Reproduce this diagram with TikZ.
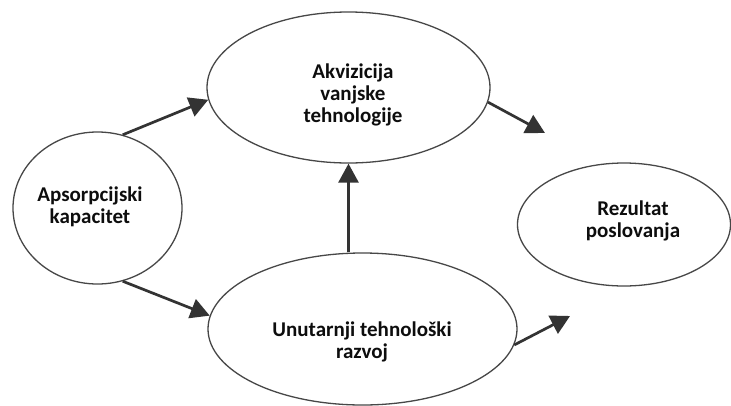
\documentclass[tikz,border=0pt]{standalone}
\usepackage{fontspec}
\setmainfont{Carlito}
\usetikzlibrary{shapes.geometric,arrows.meta}
\begin{document}
\begin{tikzpicture}[x=1pt,y=-1pt,
  bubble/.style={draw=black!72, line width=1.3pt, ellipse, inner sep=0pt},
  lbl/.style={align=center, font=\fontsize{21}{22}\selectfont\bfseries, text=black!95, inner sep=0pt},
  conn/.style={draw=black!80, line width=2.7pt, -{Triangle[length=19pt,width=20pt]}}]
\useasboundingbox[fill=white] (0,0) rectangle (731,405);
% ellipses
\node[bubble, minimum width=283pt, minimum height=151pt] (top) at (348.5,87.5) {};
\node[bubble, minimum width=169pt, minimum height=152pt] (left) at (97.5,208) {};
\node[bubble, minimum width=309pt, minimum height=152pt] (bottom) at (362.5,329) {};
\node[bubble, minimum width=213pt, minimum height=123pt] (res) at (624,224.5) {};
% texts
\node[lbl] (ttop) at (353,94.5) {Akvizicija\\vanjske\\tehnologije};
\node[lbl] (tleft) at (90,207) {Apsorpcijski\\kapacitet};
\node[lbl] (tbottom) at (362,342) {Unutarnji tehnološki\\razvoj};
\node[lbl] (tres) at (633,221) {Rezultat\\poslovanja};
% free ends
\coordinate (e1) at (545,133);
\coordinate (e2) at (570,316);
% connectors
\draw[conn] (left.71) -- (top.185);
\draw[conn] (left.-71) -- (bottom.175);
\draw[conn] (bottom.north -| top.south) -- (top.south);
\draw[conn] (top.-6) -- (e1);
\draw[conn] (bottom.-6) -- (e2);
\end{tikzpicture}
\end{document}
